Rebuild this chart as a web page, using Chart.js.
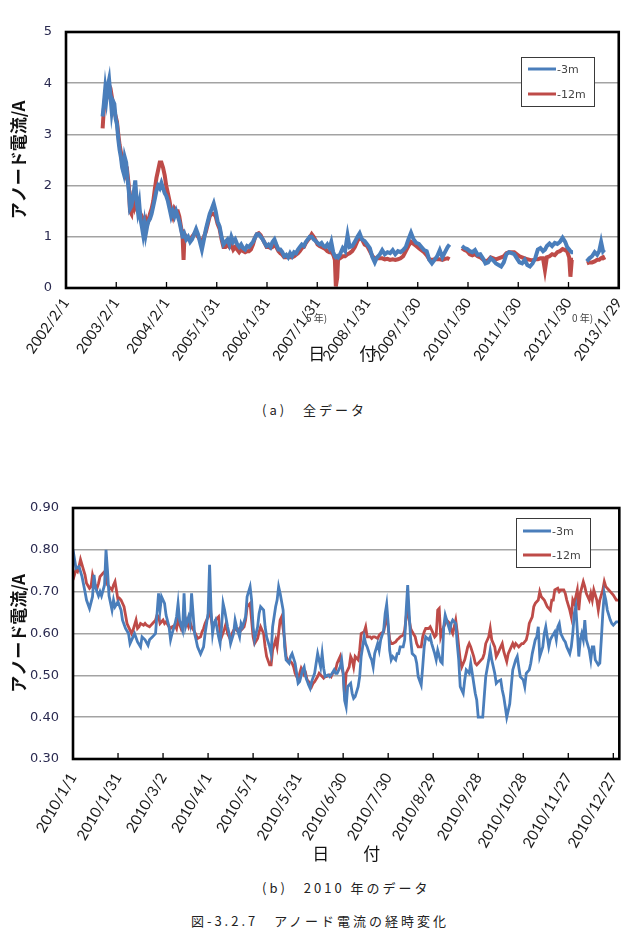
<!DOCTYPE html>
<html lang="ja">
<head>
<meta charset="utf-8">
<title>アノード電流の経時変化</title>
<script src="https://cdn.jsdelivr.net/npm/chart.js@4.4.1/dist/chart.umd.min.js"></script>
<style>
  body { margin: 0; background: #fff; }
  #page { position: relative; width: 640px; height: 951px; overflow: hidden; font-family: "Noto Sans CJK JP", sans-serif; color: #222; }
  canvas { position: absolute; left: 0; }
  .cap { position: absolute; font-size: 13px; line-height: 16px; letter-spacing: 3px; white-space: nowrap; }
  .ghost { position: absolute; font-size: 10px; color: #444; white-space: nowrap; }
</style>
</head>
<body>
<div id="page">
  <canvas id="chartA" width="640" height="364" style="top:0"></canvas>
  <canvas id="chartB" width="640" height="394" style="top:470px"></canvas>
  <div class="ghost" style="left:306px;top:310px">5 年)</div>
  <div class="ghost" style="left:572px;top:310px">0 年)</div>
  <div class="cap" style="left:262px;top:402px">(a)　全データ</div>
  <div class="cap" style="left:262px;top:880px">(b)　2010 年のデータ</div>
  <div class="cap" style="left:0;width:640px;text-align:center;top:913px">図-3.2.7　アノード電流の経時変化</div>
</div>
<script>
// series names / colours (same for both panels)
const seriesNames = ['-3m', '-12m'];
const seriesColors = ['#4a7ebb', '#be4b48'];

// ---- (a) all data: day offset from 2002/2/1 ----
const tickDaysA = [0, 365, 730, 1095, 1460, 1825, 2190, 2555, 2920, 3285, 3650, 4015];
const tickLabelsA = ['2002/2/1', '2003/2/1', '2004/2/1', '2005/1/31', '2006/1/31', '2007/1/31',
  '2008/1/31', '2009/1/30', '2010/1/30', '2011/1/30', '2012/1/30', '2013/1/29'];
const yTicksA = [0, 1, 2, 3, 4, 5];

const daysA = [
  266,275,285,294,304,313,323,332,342,351,
  361,370,380,389,399,408,418,427,437,446,
  456,465,475,484,494,503,513,522,532,541,
  551,560,570,579,589,598,610,622,634,646,
  657,669,681,693,705,717,728,740,752,764,
  776,788,800,812,823,835,847,854,861,873,
  887,902,916,930,945,959,973,987,1002,1016,
  1030,1044,1059,1073,1087,1101,1116,1130,1144,1158,
  1173,1187,1201,1215,1229,1244,1258,1272,1286,1301,
  1315,1329,1343,1358,1372,1386,1400,1414,1429,1443,
  1457,1471,1486,1500,1514,1528,1543,1557,1571,1585,
  1600,1614,1628,1642,1657,1671,1685,1699,1713,1728,
  1742,1756,1770,1785,1799,1813,1827,1842,1856,1870,
  1884,1898,1913,1927,1941,1953,1960,1970,1977,1989,
  2010,2027,2045,2060,2079,2098,2117,2133,2150,2169,
  2188,2207,2226,2243,2259,2278,2297,2316,2335,2354,
  2373,2392,2411,2430,2449,2468,2487,2506,2525,2544,
  2563,2582,2601,2620,2639,2658,2677,2696,2715,2734,
  2753,2772,2786,2830,2876,2895,2914,2933,2952,2971,
  2990,3009,3028,3047,3066,3085,3104,3123,3142,3161,
  3180,3199,3218,3237,3256,3275,3294,3313,3332,3351,
  3370,3389,3408,3427,3446,3465,3479,3493,3512,3531,
  3550,3569,3588,3607,3626,3640,3655,3664,3674,3683,
  3730,3783,3802,3821,3840,3858,3873,3887,3901,3911
];
const m3A = [
  3.35,3.6,3.9,3.7,3.95,4.07,3.75,3.45,3.65,3.6,
  3.3,3.2,2.9,2.7,2.55,2.35,2.25,2.55,2.45,2.15,
  1.9,1.55,1.6,1.75,1.9,2.1,1.7,1.5,1.65,1.35,
  1.2,1.05,1.25,1.05,1.2,1.3,1.35,1.45,1.6,1.75,
  1.9,2.0,1.95,2.05,1.95,1.85,1.8,1.7,1.55,1.4,
  1.5,1.4,1.5,1.4,1.3,1.15,1.0,1.0,1.05,0.95,
  1.0,0.9,0.95,1.05,1.15,1.05,0.9,0.75,0.95,1.15,
  1.3,1.45,1.55,1.65,1.5,1.3,1.2,1.0,0.85,0.9,
  0.95,0.85,1.0,0.9,0.95,0.85,0.8,0.85,0.78,0.75,
  0.82,0.8,0.85,0.9,0.98,1.05,1.05,1.0,0.95,0.88,
  0.82,0.85,0.8,0.9,0.95,0.85,0.75,0.75,0.7,0.62,
  0.65,0.6,0.68,0.62,0.7,0.68,0.75,0.8,0.85,0.82,
  0.9,0.95,1.0,1.0,0.95,0.92,0.88,0.85,0.88,0.82,
  0.8,0.85,0.78,0.9,0.7,0.62,0.6,0.62,0.6,0.65,
  0.78,0.72,1.03,0.8,0.82,0.9,1.0,1.07,0.95,0.92,
  0.85,0.78,0.6,0.5,0.6,0.65,0.74,0.66,0.7,0.68,
  0.74,0.66,0.72,0.7,0.74,0.8,0.95,1.08,0.95,0.88,
  0.86,0.8,0.74,0.72,0.55,0.48,0.55,0.62,0.74,0.6,
  0.7,0.8,0.85,null,0.82,0.78,0.76,0.72,0.7,0.74,
  0.65,0.66,0.58,0.48,0.5,0.58,0.54,0.48,0.45,0.42,
  0.5,0.66,0.7,0.68,0.66,0.58,0.5,0.48,0.55,0.45,
  0.42,0.48,0.58,0.75,0.78,0.72,0.75,0.82,0.87,0.82,
  0.88,0.86,0.9,0.98,0.9,0.8,0.75,0.72,0.7,0.7,
  null,0.52,0.58,0.62,0.7,0.65,0.72,0.9,0.72,0.75
];
const m12A = [
  3.12,3.5,3.75,3.85,3.8,3.96,3.9,3.75,3.6,3.45,
  3.35,3.25,3.0,2.8,2.65,2.45,2.3,2.3,2.2,2.25,
  2.0,1.5,1.45,1.7,1.6,1.75,1.6,1.65,1.5,1.45,
  1.4,1.35,1.3,1.35,1.25,1.3,1.45,1.55,1.7,1.95,
  2.15,2.3,2.45,2.45,2.35,2.2,2.0,1.85,1.7,1.5,
  1.4,1.55,1.5,1.5,1.4,1.2,1.0,0.55,1.05,1.0,
  0.95,0.95,1.0,1.05,1.1,1.0,0.95,0.9,1.0,1.1,
  1.25,1.4,1.45,1.45,1.4,1.25,1.15,0.95,0.8,0.8,
  0.85,0.8,0.85,0.75,0.8,0.75,0.7,0.75,0.72,0.7,
  0.72,0.72,0.75,0.85,0.98,1.05,1.07,1.03,0.95,0.88,
  0.8,0.8,0.78,0.8,0.85,0.8,0.72,0.68,0.65,0.6,
  0.6,0.62,0.6,0.6,0.62,0.65,0.68,0.72,0.78,0.8,
  0.88,0.93,0.98,1.05,1.0,0.93,0.85,0.82,0.8,0.78,
  0.76,0.72,0.7,0.7,0.65,0.55,0.03,0.2,0.6,0.58,
  0.62,0.62,0.66,0.68,0.72,0.8,0.92,0.98,0.95,0.85,
  0.82,0.72,0.62,0.58,0.58,0.58,0.58,0.56,0.57,0.55,
  0.56,0.55,0.56,0.58,0.62,0.72,0.82,0.9,0.86,0.82,
  0.78,0.74,0.7,0.64,0.56,0.55,0.56,0.56,0.56,0.55,
  0.57,0.58,0.56,null,0.78,0.74,0.72,0.66,0.64,0.66,
  0.62,0.6,0.56,0.52,0.54,0.6,0.58,0.56,0.58,0.6,
  0.62,0.68,0.7,0.7,0.7,0.66,0.62,0.6,0.58,0.56,
  0.55,0.54,0.56,0.56,0.58,0.58,0.35,0.6,0.62,0.66,
  0.64,0.7,0.72,0.76,0.74,0.72,0.6,0.22,0.55,0.55,
  null,0.48,0.5,0.5,0.52,0.55,0.55,0.58,0.6,0.55
];

// ---- (b) 2010: day offset from 2010/1/1 ----
const tickDaysB = [0, 30, 60, 90, 120, 150, 180, 210, 240, 270, 300, 330, 360];
const tickLabelsB = ['2010/1/1', '2010/1/31', '2010/3/2', '2010/4/1', '2010/5/1', '2010/5/31', '2010/6/30',
  '2010/7/30', '2010/8/29', '2010/9/28', '2010/10/28', '2010/11/27', '2010/12/27'];
const yTicksB = [0.3, 0.4, 0.5, 0.6, 0.7, 0.8, 0.9];
const yTickLabelsB = ['0.30', '0.40', '0.50', '0.60', '0.70', '0.80', '0.90'];

const m3DaysB = [
  0,2,4,6,8,9,11,13,14,15,
  17,18,19,21,22,23,24,26,27,28,
  30,32,33,35,37,38,40,41,43,45,
  46,48,50,51,53,55,57,58,59,61,
  62,64,65,66,68,69,70,71,73,74,
  75,77,78,79,81,82,83,85,87,88,
  90,91,92,93,94,95,97,98,99,100,
  101,103,104,105,107,108,109,111,112,113,
  115,116,118,119,120,121,123,124,125,127,
  128,129,131,132,133,135,136,137,138,140,
  141,142,144,145,146,148,149,150,151,153,
  154,155,157,158,159,161,162,163,165,166,
  167,168,170,171,172,174,175,176,178,179,
  180,181,182,183,185,186,187,188,190,191,
  192,194,195,196,198,199,200,201,203,204,
  205,207,208,209,210,211,212,213,215,216,
  217,218,220,221,222,223,224,225,226,228,
  229,230,232,233,234,235,237,238,239,241,
  242,243,245,246,247,248,249,251,252,253,
  255,256,257,258,260,261,262,264,265,266,
  268,269,270,271,273,274,275,277,278,279,
  281,282,283,285,286,287,288,289,291,292,
  293,295,296,297,298,300,301,302,304,305,
  306,308,309,310,311,313,314,315,317,318,
  319,321,322,323,324,325,327,328,329,331,
  332,333,334,335,336,337,338,339,340,341,
  342,344,345,346,347,348,350,351,352,353,
  354,355,356,358,359,360,362,364
];
const m3B = [
  0.80,0.756,0.76,0.736,0.70,0.68,0.66,0.688,0.74,0.71,
  0.69,0.70,0.69,0.716,0.80,0.75,0.69,0.656,0.68,0.664,
  0.676,0.656,0.632,0.612,0.60,0.576,0.592,0.60,0.58,0.568,
  0.592,0.585,0.572,0.585,0.592,0.60,0.696,0.656,0.688,0.672,
  0.644,0.616,0.585,0.60,0.624,0.64,0.672,0.632,0.608,0.696,
  0.616,0.64,0.624,0.696,0.60,0.585,0.568,0.551,0.568,0.60,
  0.648,0.764,0.656,0.60,0.624,0.632,0.592,0.576,0.616,0.672,
  0.656,0.616,0.60,0.576,0.60,0.632,0.616,0.592,0.624,0.616,
  0.64,0.688,0.712,0.68,0.616,0.585,0.616,0.648,0.664,0.656,
  0.616,0.592,0.568,0.552,0.616,0.664,0.68,0.712,0.696,0.656,
  0.568,0.537,0.529,0.545,0.552,0.529,0.505,0.481,0.485,0.513,
  0.52,0.497,0.477,0.469,0.485,0.505,0.529,0.552,0.52,0.552,
  0.517,0.497,0.501,0.497,0.501,0.513,0.505,0.505,0.52,0.537,
  0.505,0.44,0.425,0.473,0.481,0.457,0.445,0.449,0.473,0.497,
  0.545,0.592,0.576,0.568,0.545,0.537,0.52,0.552,0.576,0.56,
  0.585,0.608,0.648,0.67,0.624,0.56,0.537,0.545,0.537,0.552,
  0.552,0.568,0.568,0.585,0.656,0.716,0.648,0.585,0.552,0.545,
  0.529,0.497,0.477,0.52,0.568,0.592,0.585,0.592,0.576,0.552,
  0.537,0.56,0.533,0.529,0.616,0.644,0.632,0.608,0.624,0.632,
  0.624,0.576,0.537,0.473,0.457,0.489,0.513,0.505,0.529,0.505,
  0.457,0.441,0.40,0.40,0.40,0.449,0.497,0.537,0.56,0.537,
  0.505,0.481,0.485,0.489,0.465,0.449,0.425,0.40,0.432,0.473,
  0.513,0.537,0.545,0.52,0.497,0.489,0.473,0.505,0.513,0.529,
  0.552,0.585,0.592,0.616,0.545,0.568,0.60,0.616,0.568,0.585,
  0.592,0.604,0.585,0.616,0.624,0.60,0.585,0.58,0.568,0.552,
  0.568,0.60,0.648,0.664,0.608,0.545,0.585,0.60,0.585,0.632,
  0.585,0.56,0.537,0.568,0.568,0.537,0.525,0.529,0.585,0.648,
  0.696,0.68,0.656,0.632,0.624,0.62,0.628,0.628
];
const m12DaysB = [
  0,2,3,4,5,7,8,9,11,12,
  13,15,16,17,18,20,21,22,23,25,
  26,27,28,30,31,32,34,35,36,38,
  39,40,42,43,44,45,47,48,49,51,
  52,53,55,56,57,58,60,61,62,64,
  65,66,68,69,70,72,73,74,75,77,
  78,79,81,82,83,85,86,87,88,90,
  91,92,93,94,95,97,98,99,101,102,
  103,105,106,107,108,110,111,112,114,115,
  116,118,119,120,121,123,124,125,127,128,
  129,131,132,133,135,136,137,138,139,141,
  142,143,145,146,147,148,150,151,152,154,
  155,156,158,159,160,161,163,164,165,167,
  168,169,171,172,173,175,176,177,178,179,
  180,181,182,184,185,186,187,188,190,191,
  192,194,195,196,198,199,200,201,203,204,
  205,207,208,209,210,211,212,213,215,216,
  217,218,220,221,222,223,224,225,226,228,
  229,230,232,233,234,235,237,238,239,241,
  242,243,244,245,246,247,249,251,252,253,
  255,256,257,258,259,261,262,263,264,265,
  267,268,269,270,272,273,274,275,277,278,
  279,281,282,283,285,286,287,289,290,292,
  293,294,295,297,298,299,300,302,303,304,
  306,307,308,310,311,312,314,315,316,318,
  319,320,321,323,324,325,327,328,329,331,
  332,333,334,335,336,337,338,340,341,342,
  344,345,346,347,349,350,351,353,354,355,
  357,358,359,360,362,364
];
const m12B = [
  0.728,0.752,0.748,0.76,0.777,0.752,0.74,0.72,0.708,0.712,
  0.74,0.712,0.708,0.72,0.736,0.744,0.748,0.752,0.716,0.708,
  0.704,0.716,0.724,0.68,0.684,0.68,0.664,0.644,0.624,0.608,
  0.60,0.608,0.632,0.612,0.616,0.624,0.62,0.624,0.62,0.616,
  0.62,0.624,0.632,0.644,0.64,0.624,0.632,0.624,0.628,0.616,
  0.612,0.616,0.62,0.612,0.632,0.612,0.624,0.632,0.636,0.616,
  0.628,0.616,0.604,0.596,0.588,0.592,0.604,0.612,0.624,0.64,
  0.68,0.636,0.616,0.62,0.632,0.64,0.604,0.592,0.612,0.624,
  0.60,0.585,0.60,0.608,0.612,0.604,0.612,0.608,0.616,0.632,
  0.664,0.672,0.632,0.592,0.576,0.588,0.604,0.616,0.60,0.568,
  0.545,0.525,0.525,0.56,0.585,0.568,0.60,0.632,0.64,0.585,
  0.545,0.537,0.533,0.529,0.52,0.505,0.489,0.505,0.517,0.501,
  0.505,0.489,0.481,0.473,0.481,0.485,0.497,0.505,0.501,0.493,
  0.497,0.497,0.501,0.497,0.505,0.513,0.529,0.537,0.545,0.52,
  0.505,0.449,0.505,0.52,0.545,0.537,0.52,0.545,0.537,0.56,
  0.60,0.604,0.616,0.592,0.592,0.588,0.592,0.592,0.588,0.596,
  0.60,0.604,0.624,0.644,0.616,0.585,0.576,0.576,0.58,0.585,
  0.588,0.592,0.596,0.608,0.64,0.664,0.632,0.612,0.604,0.592,
  0.576,0.568,0.568,0.592,0.604,0.612,0.612,0.616,0.608,0.592,
  0.596,0.656,0.66,0.592,0.604,0.616,0.632,0.624,0.608,0.60,
  0.632,0.604,0.568,0.537,0.52,0.537,0.552,0.568,0.576,0.568,
  0.545,0.529,0.525,0.529,0.537,0.541,0.552,0.576,0.592,0.612,
  0.585,0.568,0.545,0.552,0.568,0.576,0.557,0.533,0.552,0.568,
  0.576,0.568,0.576,0.568,0.572,0.576,0.576,0.585,0.60,0.624,
  0.64,0.664,0.672,0.68,0.70,0.688,0.68,0.672,0.664,0.656,
  0.68,0.68,0.704,0.708,0.70,0.704,0.704,0.696,0.68,0.656,
  0.64,0.68,0.672,0.688,0.704,0.656,0.696,0.724,0.712,0.696,
  0.68,0.696,0.68,0.704,0.68,0.656,0.68,0.704,0.724,0.712,
  0.704,0.70,0.696,0.692,0.68,0.68
];

function points(days, vals) {
  return days.map((d, i) => ({ x: d, y: vals[i] }));
}

// frame, inward x tick marks and boxed legend, drawn on top
const framePlugin = {
  id: 'frame',
  afterDraw(chart, args, opts) {
    const { ctx, chartArea: a, scales } = chart;
    ctx.save();
    ctx.strokeStyle = '#000';
    ctx.lineWidth = 1.3;
    scales.x.ticks.forEach(t => {
      const px = scales.x.getPixelForValue(t.value);
      ctx.beginPath();
      ctx.moveTo(px, a.bottom);
      ctx.lineTo(px, a.bottom - 6);
      ctx.stroke();
    });
    ctx.lineWidth = 2.6;
    ctx.strokeRect(a.left, a.top, a.right - a.left, a.bottom - a.top);

    const lg = opts.legend;
    const bx = Math.round(a.right - lg.right), by = Math.round(a.top + lg.top);
    ctx.fillStyle = '#fff';
    ctx.fillRect(bx, by, lg.w, lg.h);
    ctx.lineWidth = 1;
    ctx.strokeStyle = '#3a3a3a';
    ctx.strokeRect(bx + 0.5, by + 0.5, lg.w, lg.h);
    ctx.font = '11px "DejaVu Sans"';
    ctx.textBaseline = 'middle';
    chart.data.datasets.forEach((ds, i) => {
      const y = by + lg.rows[i];
      ctx.strokeStyle = ds.borderColor;
      ctx.lineWidth = 3;
      ctx.beginPath();
      ctx.moveTo(bx + 7, y);
      ctx.lineTo(bx + 35, y);
      ctx.stroke();
      ctx.fillStyle = '#444';
      ctx.fillText(ds.label, bx + 36, y + 1);
    });
    ctx.restore();
  }
};

function makeChart(id, o) {
  return new Chart(document.getElementById(id), {
    type: 'line',
    data: {
      datasets: o.series.map((s, i) => ({
        label: seriesNames[i],
        data: s,
        borderColor: seriesColors[i],
        borderWidth: o.lineWidth,
        pointRadius: 0,
        tension: 0,
        spanGaps: false
      }))
    },
    options: {
      responsive: false,
      animation: false,
      events: [],
      layout: { autoPadding: false, padding: { left: 0, top: o.top, right: o.right, bottom: 0 } },
      plugins: {
        legend: { display: false },
        tooltip: { enabled: false },
        frame: { legend: o.legend }
      },
      scales: {
        x: {
          type: 'linear',
          min: o.xMin,
          max: o.xMax,
          afterBuildTicks: s => { s.ticks = o.tickDays.map(v => ({ value: v })); },
          afterFit: s => { s.height = o.xHeight; },
          ticks: {
            autoSkip: false,
            minRotation: o.rot,
            maxRotation: o.rot,
            padding: o.tickPad,
            color: '#1a1a1a',
            font: { family: 'Lato', size: o.tickSize },
            callback: (v, i) => o.tickLabels[i]
          },
          grid: { display: false, drawTicks: false },
          border: { display: false },
          title: {
            display: true,
            text: '日　　付',
            color: '#111',
            font: { family: 'Noto Sans CJK JP', size: 17 },
            padding: { top: 0, bottom: 0 }
          }
        },
        y: {
          min: o.yMin,
          max: o.yMax,
          afterBuildTicks: s => { s.ticks = o.yTicks.map(v => ({ value: v })); },
          afterFit: s => { s.width = o.yWidth; },
          ticks: {
            padding: 14,
            color: '#2a2a50',
            font: { family: 'DejaVu Sans', size: 13 },
            callback: (v, i) => o.yLabels[i]
          },
          grid: { color: '#a3a3a3', lineWidth: 1.5, drawTicks: false },
          border: { display: false },
          title: {
            display: true,
            text: 'アノード電流/A',
            color: '#111',
            font: { family: 'Noto Sans CJK JP', size: 17, weight: 'bold' },
            padding: { top: 8, bottom: 0 }
          }
        }
      }
    },
    plugins: [framePlugin]
  });
}

makeChart('chartA', {
  series: [points(daysA, m3A), points(daysA, m12A)],
  lineWidth: 4,
  top: 32, right: 10, yWidth: 66, xHeight: 76, tickPad: 7, rot: 55, tickSize: 14.5,
  xMin: 0, xMax: 4015, tickDays: tickDaysA, tickLabels: tickLabelsA,
  yMin: 0, yMax: 5, yTicks: yTicksA, yLabels: yTicksA.map(String),
  legend: { right: 98, top: 25, w: 73, h: 49, rows: [12, 37] }
});

makeChart('chartB', {
  series: [points(m3DaysB, m3B), points(m12DaysB, m12B)],
  lineWidth: 2.8,
  top: 38, right: 9, yWidth: 73, xHeight: 105, tickPad: 11, rot: 60, tickSize: 15,
  xMin: 0, xMax: 364, tickDays: tickDaysB, tickLabels: tickLabelsB,
  yMin: 0.3, yMax: 0.9, yTicks: yTicksB, yLabels: yTickLabelsB,
  legend: { right: 103, top: 10, w: 74, h: 49, rows: [13, 37] }
});
</script>
</body>
</html>
